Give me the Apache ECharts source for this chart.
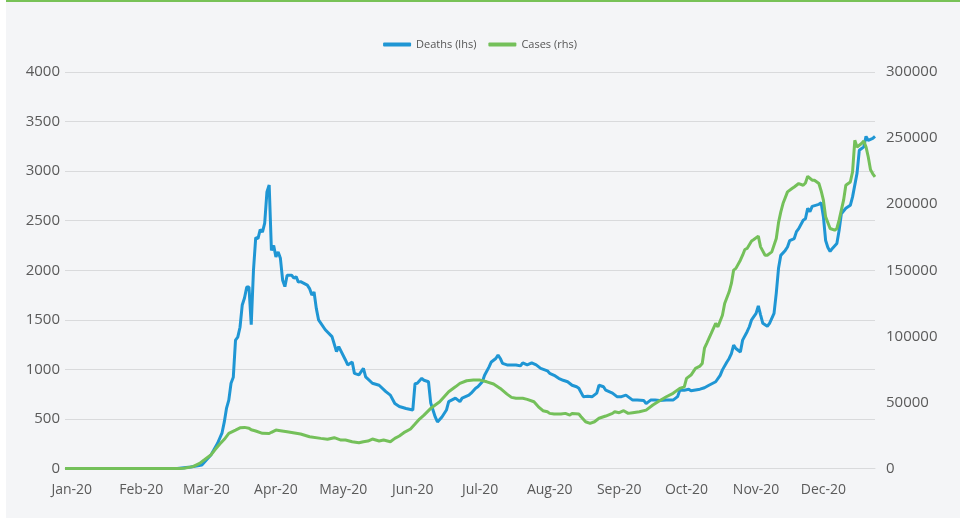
<!DOCTYPE html>
<html>
<head>
<meta charset="utf-8">
<script src="https://cdn.jsdelivr.net/npm/echarts@6/dist/echarts.min.js"></script>
<style>
  body { margin: 0; background: #fff; }
  #panel { position: absolute; left: 6px; top: 0; width: 954px; height: 518px; background: #f4f5f7; border-top: 2px solid #78c257; box-sizing: border-box; }
  #chart { position: absolute; left: 0; top: 0; width: 960px; height: 522px; }
</style>
</head>
<body>
<div id="panel"></div>
<div id="chart"></div>
<script>
// day offsets from 1 Jan 2020
const deathDays = [-3, 47, 49, 53, 58, 62, 65, 67, 68, 69, 70, 71, 72, 73, 74, 75, 76, 77, 78, 79, 80, 81, 82, 83, 84, 85, 86, 87, 88, 89, 90, 91, 92, 93, 94, 95, 96, 98, 99, 100, 101, 102, 105, 106, 107, 108, 109, 110, 113, 116, 118, 119, 122, 123, 125, 126, 128, 130, 131, 134, 137, 140, 142, 144, 146, 149, 152, 153, 154, 156, 157, 159, 160, 162, 163, 165, 167, 168, 171, 173, 174, 177, 178, 180, 181, 183, 184, 186, 187, 189, 190, 191, 192, 194, 196, 198, 200, 201, 203, 205, 207, 209, 212, 213, 215, 217, 219, 221, 223, 225, 226, 228, 230, 232, 234, 235, 237, 238, 241, 243, 245, 247, 250, 252, 255, 256, 258, 260, 262, 265, 268, 270, 271, 273, 275, 276, 280, 282, 284, 287, 289, 290, 292, 293, 294, 295, 296, 298, 299, 301, 302, 303, 305, 306, 307, 308, 310, 311, 313, 314, 315, 316, 318, 319, 320, 322, 323, 324, 326, 327, 328, 329, 330, 333, 334, 335, 336, 337, 338, 339, 341, 342, 343, 345, 347, 348, 350, 351, 353, 354, 355, 357, 358]
const deaths = [0, 0, 5, 15, 35, 135, 255, 360, 470, 610, 690, 860, 920, 1295, 1325, 1425, 1650, 1720, 1830, 1830, 1450, 2000, 2330, 2320, 2410, 2385, 2475, 2790, 2860, 2200, 2250, 2135, 2185, 2120, 1900, 1835, 1950, 1950, 1920, 1935, 1880, 1885, 1850, 1815, 1750, 1780, 1615, 1500, 1400, 1330, 1180, 1230, 1095, 1045, 1075, 960, 945, 1010, 925, 860, 840, 775, 740, 655, 625, 605, 590, 855, 860, 910, 890, 875, 660, 520, 470, 520, 590, 675, 710, 675, 710, 740, 760, 810, 825, 875, 940, 1025, 1075, 1110, 1145, 1110, 1060, 1045, 1045, 1045, 1035, 1065, 1045, 1065, 1045, 1010, 985, 960, 940, 910, 890, 875, 840, 825, 810, 725, 730, 725, 760, 840, 825, 790, 760, 725, 725, 740, 690, 690, 685, 655, 690, 690, 685, 690, 690, 725, 790, 790, 800, 785, 800, 815, 840, 875, 940, 995, 1075, 1110, 1160, 1245, 1210, 1175, 1295, 1380, 1430, 1500, 1565, 1640, 1550, 1465, 1435, 1465, 1565, 1770, 2020, 2150, 2200, 2235, 2300, 2320, 2390, 2420, 2505, 2520, 2625, 2590, 2645, 2665, 2680, 2540, 2300, 2230, 2190, 2220, 2270, 2400, 2570, 2625, 2655, 2740, 2980, 3210, 3245, 3350, 3310, 3330, 3350]

const caseDays = [-3, 48, 50, 54, 57, 59, 62, 64, 66, 68, 70, 73, 75, 77, 79, 80, 82, 85, 88, 89, 91, 93, 96, 102, 106, 111, 114, 117, 120, 122, 125, 128, 130, 132, 134, 137, 139, 142, 144, 146, 148, 151, 153, 155, 157, 160, 162, 164, 166, 168, 171, 173, 176, 179, 182, 185, 188, 191, 194, 196, 198, 201, 203, 206, 208, 210, 212, 213, 215, 218, 220, 222, 223, 226, 227, 229, 231, 233, 235, 238, 241, 242, 244, 246, 248, 250, 253, 256, 259, 262, 265, 268, 271, 273, 274, 276, 278, 280, 281, 282, 283, 285, 287, 288, 290, 291, 293, 294, 295, 296, 298, 299, 300, 301, 303, 304, 306, 307, 309, 310, 312, 314, 315, 316, 317, 319, 321, 322, 324, 326, 327, 328, 330, 331, 333, 334, 335, 336, 338, 340, 341, 342, 344, 345, 347, 348, 349, 350, 352, 353, 354, 355, 356, 357, 358]
const cases = [0, 0, 150, 1400, 3900, 6400, 10200, 14500, 18500, 22100, 26600, 29100, 30800, 31100, 30500, 29300, 28400, 26600, 26500, 27400, 29100, 28600, 27800, 26100, 24000, 22800, 22100, 23300, 21500, 21500, 20300, 19500, 20300, 20800, 22300, 20800, 21500, 20300, 22800, 24600, 27100, 29900, 33600, 37400, 40400, 45500, 48000, 50500, 54300, 58100, 61800, 64400, 66400, 66900, 66900, 65600, 63900, 60600, 56300, 53800, 53100, 53100, 52300, 50500, 46700, 43700, 42900, 41700, 41200, 41200, 41700, 40400, 41700, 41200, 39200, 35400, 34200, 35400, 38000, 39700, 41700, 42900, 42200, 43700, 41700, 42200, 42900, 44200, 48000, 51300, 54300, 56900, 60600, 61800, 68200, 70700, 75800, 77500, 79500, 91000, 94700, 102200, 109800, 107200, 116000, 124900, 133700, 140000, 150100, 151400, 157600, 161400, 165700, 166500, 172200, 173300, 175800, 167700, 161400, 161400, 163900, 174000, 186000, 194000, 200500, 209300, 211800, 213000, 215600, 214300, 216000, 221100, 218100, 218100, 215600, 210000, 203000, 190400, 181600, 180300, 181600, 187900, 203000, 214300, 216800, 224400, 248300, 243300, 245900, 247800, 243300, 235700, 226000, 223000, 220600]

const monthNames = ['Jan', 'Feb', 'Mar', 'Apr', 'May', 'Jun', 'Jul', 'Aug', 'Sep', 'Oct', 'Nov', 'Dec']
const seriesNames = ['Deaths (lhs)', 'Cases (rhs)']
const colors = ['#1f96d4', '#74c05a']

const DAY = 86400000
const start = Date.UTC(2020, 0, 1)
const toTime = d => start + d * DAY

let myChart = echarts.init(document.getElementById('chart'))
let labelFont = { color: '#5a5a5a', fontSize: 14, fontFamily: 'Open Sans' }
let plain = v => String(v)

let option = {
  useUTC: true,
  animation: false,
  color: colors,
  legend: {
    data: seriesNames,
    top: 34,
    left: 'center',
    icon: 'roundRect',
    itemWidth: 28,
    itemHeight: 4,
    itemGap: 12,
    textStyle: { color: '#555', fontSize: 11, fontFamily: 'Open Sans' }
  },
  grid: { left: 65, right: 85, top: 72, bottom: 53.5, containLabel: false },
  xAxis: {
    type: 'time',
    min: toTime(-3),
    max: toTime(358),
    splitNumber: 12,
    maxInterval: 31 * DAY,
    axisLine: { lineStyle: { color: '#d9dadc' } },
    axisTick: { show: false },
    splitLine: { show: false },
    axisLabel: Object.assign({
      margin: 15,
      hideOverlap: false,
      formatter: v => {
        let d = new Date(v)
        if (d.getUTCDate() !== 1) return ''
        return monthNames[d.getUTCMonth()] + '-' + String(d.getUTCFullYear()).slice(2)
      }
    }, labelFont)
  },
  yAxis: [
    {
      type: 'value',
      min: 0,
      max: 4000,
      interval: 500,
      axisLine: { show: false },
      axisTick: { show: false },
      splitLine: { lineStyle: { color: '#d9dadc', width: 1 } },
      axisLabel: Object.assign({ margin: 5, formatter: plain }, labelFont, { fontSize: 15 })
    },
    {
      type: 'value',
      min: 0,
      max: 300000,
      interval: 50000,
      axisLine: { show: false },
      axisTick: { show: false },
      splitLine: { show: false },
      axisLabel: Object.assign({ margin: 11, formatter: plain }, labelFont, { fontSize: 15 })
    }
  ],
  series: [
    {
      name: seriesNames[0],
      type: 'line',
      yAxisIndex: 0,
      showSymbol: false,
      lineStyle: { width: 3, color: colors[0] },
      data: deathDays.map((d, i) => [toTime(d), deaths[i]])
    },
    {
      name: seriesNames[1],
      type: 'line',
      yAxisIndex: 1,
      showSymbol: false,
      lineStyle: { width: 3, color: colors[1] },
      data: caseDays.map((d, i) => [toTime(d), cases[i]])
    }
  ]
}
myChart.setOption(option)
</script>
</body>
</html>
